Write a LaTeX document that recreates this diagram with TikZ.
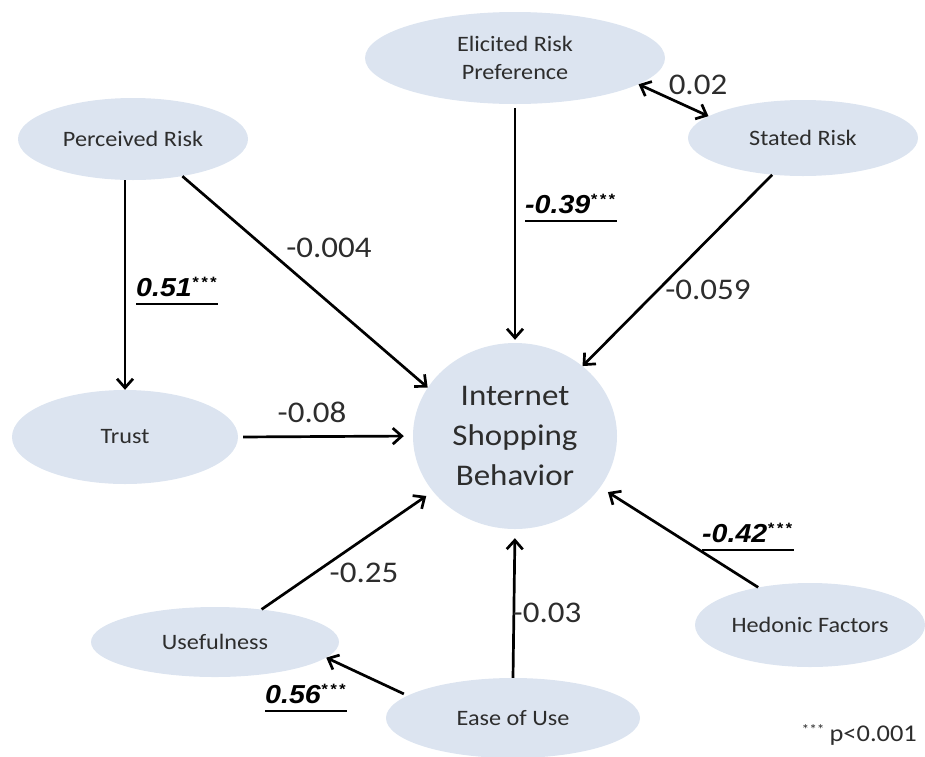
\documentclass[tikz,border=0pt]{standalone}
\usepackage{fontspec}
\setmainfont{Carlito}[FakeStretch=1.1]
\newfontfamily\numfont{Liberation Sans}[FakeStretch=1.1]
\usetikzlibrary{shapes.geometric,arrows.meta}
\definecolor{nodefill}{RGB}{220,228,240}
\definecolor{labeltext}{RGB}{45,45,45}
% superscript significance marks
\newcommand\sigstars{\raisebox{9pt}{\fontsize{15}{15}\selectfont*\kern2.5pt*\kern2.5pt*}}
\begin{document}
\begin{tikzpicture}[x=1pt,y=-1pt,
  latent/.style={ellipse,fill=nodefill,inner sep=0pt,align=center,text=labeltext,
    font=\fontsize{22}{28}\selectfont},
  outcome/.style={ellipse,fill=nodefill,inner sep=0pt,align=center,text=labeltext,
    font=\fontsize{30}{40}\selectfont},
  effect/.style={line width=2.7pt,-{Straight Barb[length=9pt,width=16pt]}},
  corr/.style={line width=2.7pt,{Straight Barb[length=9pt,width=16pt]}-{Straight Barb[length=9pt,width=16pt]}},
  coef/.style={font=\fontsize{30}{30}\selectfont,inner sep=0pt,text=labeltext},
  sig/.style={font=\numfont\bfseries\itshape\fontsize{26}{26}\selectfont,
    inner xsep=0pt,inner ysep=0pt,anchor=base west},
  rule/.style={line width=1.8pt},
]
\useasboundingbox (0,0) rectangle (925,756);

% constructs
\node[latent,minimum width=300pt,minimum height=92pt] (eli) at (515,58) {Elicited Risk\\Preference};
\node[latent,minimum width=230pt,minimum height=82pt] (per) at (133,139) {Perceived Risk};
\node[latent,minimum width=230pt,minimum height=76pt] (sta) at (803,138) {Stated Risk};
\node[outcome,minimum width=204pt,minimum height=186pt] (isb) at (515,436) {Internet\\Shopping\\Behavior};
\node[latent,minimum width=226pt,minimum height=94pt] (tru) at (125,437) {Trust};
\node[latent,minimum width=248pt,minimum height=70pt] (use) at (215,642) {Usefulness};
\node[latent,minimum width=254pt,minimum height=80pt] (eas) at (513,718) {Ease of Use};
\node[latent,minimum width=230pt,minimum height=84pt] (hed) at (810,625) {Hedonic Factors};

% paths
\draw[effect] (per.south -| tru.north) -- (tru.north);
\draw[effect] (per.-37) -- (isb.151);
\draw[effect,shorten <=4pt,shorten >=3pt] (eli.south) -- (isb.north);
\draw[effect] (sta.-130) -- (isb.46);
\draw[corr] (eli.-12) -- (sta.167);
\draw[effect,shorten <=5pt,shorten >=9pt] (tru.east) -- (isb.west);
\draw[effect,shorten >=8pt] (use.35) -- (isb.214);
\draw[effect,shorten >=9pt] (eas.north) -- (isb.south);
\draw[effect,shorten >=9pt] (hed.144) -- (isb.-31.5);
\draw[effect,shorten <=4pt] (eas.168) -- (use.-8.5);

% path coefficients
\node[coef] (c02) at (698,85) {0.02};
\node[coef] (c004) at (329,248) {-0.004};
\node[coef] (c059) at (708,290) {-0.059};
\node[coef] (c08) at (312,412) {-0.08};
\node[coef] (c25) at (364,573) {-0.25};
\node[coef] (c03) at (547,613) {-0.03};

% significant coefficients, underlined
\node[sig] (s39) at (525,213) {-0.39\sigstars};
\node[sig] (s51) at (136,296) {0.51\sigstars};
\node[sig] (s42) at (702,542) {-0.42\sigstars};
\node[sig] (s56) at (265,703) {0.56\sigstars};
\foreach \s in {s39,s51,s42,s56}
  \draw[rule] ([yshift=-8pt]\s.base west) -- ([yshift=-8pt,xshift=2pt]\s.base east);

% legend
\node[inner sep=0pt,anchor=base east,text=labeltext,font=\fontsize{24}{24}\selectfont] (leg) at (917,741)
  {\raisebox{7pt}{\fontsize{14}{14}\selectfont***}\kern5pt p<0.001};
\end{tikzpicture}
\end{document}
